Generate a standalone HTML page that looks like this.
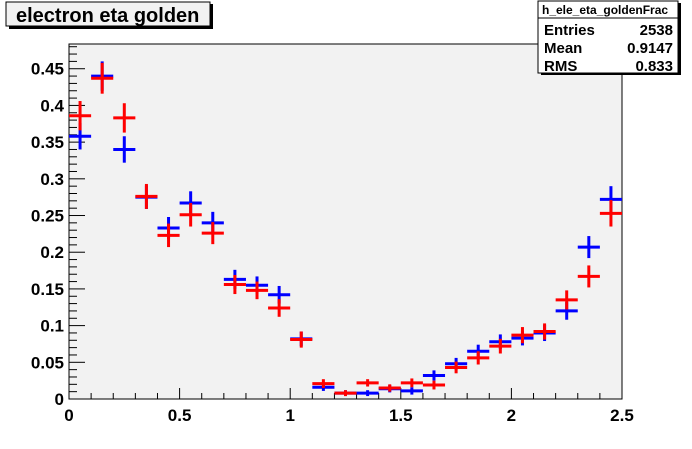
<!DOCTYPE html>
<html><head><meta charset="utf-8"><style>
body{margin:0;background:#fff;}
svg text{font-family:"Liberation Sans",Arial,sans-serif;font-weight:bold;}
</style></head><body>
<svg width="692" height="444" xmlns="http://www.w3.org/2000/svg">
<g>
<rect x="9" y="4" width="204" height="25" fill="#000"/>
<rect x="6" y="2" width="204" height="24" fill="#f2f2f2" stroke="#000" stroke-width="1"/>
<text x="16" y="22" font-size="20">electron eta golden</text>
</g>
<rect x="69" y="44" width="553" height="355" fill="#f2f2f2" stroke="#000" stroke-width="1"/>
<g id="axes"></g>
<g id="marks"></g>
<g>
<rect x="541" y="3" width="140" height="72" fill="#000"/>
<rect x="538" y="1" width="140" height="72" fill="#fff" stroke="#000" stroke-width="1"/>
<line x1="538" y1="18" x2="678" y2="18" stroke="#000"/>
<text x="542" y="14" font-size="12">h_ele_eta_goldenFrac</text>
<text x="544" y="35" font-size="15">Entries</text>
<text x="673" y="35" font-size="15" text-anchor="end">2538</text>
<text x="544" y="53" font-size="15">Mean</text>
<text x="673" y="53" font-size="15" text-anchor="end">0.9147</text>
<text x="544" y="71" font-size="15">RMS</text>
<text x="673" y="71" font-size="15" text-anchor="end">0.833</text>
</g>
</svg>
<script>
const binCenters=[0.05,0.15,0.25,0.35,0.45,0.55,0.65,0.75,0.85,0.95,1.05,1.15,1.25,1.35,1.45,1.55,1.65,1.75,1.85,1.95,2.05,2.15,2.25,2.35,2.45];
const blueValues=[0.358,0.44,0.34,0.275,0.233,0.267,0.24,0.163,0.155,0.142,0.082,0.016,0.008,0.008,0.014,0.011,0.032,0.048,0.065,0.078,0.083,0.09,0.12,0.207,0.272];
const blueErrors=[0.018,0.02,0.018,0.016,0.015,0.016,0.015,0.013,0.012,0.012,0.01,0.005,0.004,0.004,0.005,0.005,0.007,0.008,0.009,0.01,0.01,0.011,0.012,0.015,0.018];
const redValues=[0.386,0.437,0.383,0.276,0.223,0.251,0.226,0.156,0.148,0.124,0.081,0.021,0.008,0.022,0.015,0.022,0.019,0.043,0.056,0.072,0.087,0.092,0.135,0.167,0.253];
const redErrors=[0.02,0.021,0.02,0.017,0.016,0.016,0.015,0.013,0.012,0.012,0.011,0.006,0.004,0.005,0.005,0.006,0.006,0.008,0.009,0.01,0.011,0.011,0.013,0.015,0.018];
const xTicks=[0,0.5,1,1.5,2,2.5];
const xTickLabels=["0","0.5","1","1.5","2","2.5"];
const yTicks=[0,0.05,0.1,0.15,0.2,0.25,0.3,0.35,0.4,0.45];
const yTickLabels=["0","0.05","0.1","0.15","0.2","0.25","0.3","0.35","0.4","0.45"];
const binWidth=0.1;
const X0=69,X1=622,Y0=399,Y1=44,XMAX=2.5,YMAX=0.4837;
function sx(v){return X0+v/XMAX*(X1-X0);}
function sy(v){return Y0-v/YMAX*(Y0-Y1);}
const NS="http://www.w3.org/2000/svg";
function mk(tag,attrs,parent){const e=document.createElementNS(NS,tag);for(const k in attrs)e.setAttribute(k,attrs[k]);parent.appendChild(e);return e;}
const axes=document.getElementById('axes');
for(let i=0;i<=25;i++){const v=i/10;const major=(i%5===0);
 const t=mk('line',{x1:sx(v),x2:sx(v),y1:Y0,y2:Y0-(major?11:6),stroke:'#000'},axes);
 
 }
xTicks.forEach((v,i)=>{const t=mk('text',{x:sx(v),y:Y0+22,'font-size':'17','text-anchor':'middle'},axes);t.textContent=xTickLabels[i];
 
 });
for(let i=0;i<=48;i++){const v=i/100;if(v>YMAX)break;const major=(i%5===0);
 const t=mk('line',{x1:X0,x2:X0+(major?16:8),y1:sy(v),y2:sy(v),stroke:'#000'},axes);
 
 }
yTicks.forEach((v,i)=>{const t=mk('text',{x:X0-5,y:sy(v)+6,'font-size':'17','text-anchor':'end'},axes);t.textContent=yTickLabels[i];
 
 });
const marks=document.getElementById('marks');
function series(vals,errs,color,name){
 const g=mk('g',{},marks);
 
 
 binCenters.forEach((c,i)=>{
  const v=vals[i],e=errs[i];
  const p=mk('g',{},g);
  
  
  mk('line',{x1:sx(c-binWidth/2),x2:sx(c+binWidth/2),y1:sy(v),y2:sy(v),stroke:color,'stroke-width':3},p);
  mk('line',{x1:sx(c),x2:sx(c),y1:sy(v-e),y2:sy(v+e),stroke:color,'stroke-width':3},p);
 });
}
series(blueValues,blueErrors,'#0000ff','blue-series');
series(redValues,redErrors,'#ff0000','red-series');
</script>
</body></html>
